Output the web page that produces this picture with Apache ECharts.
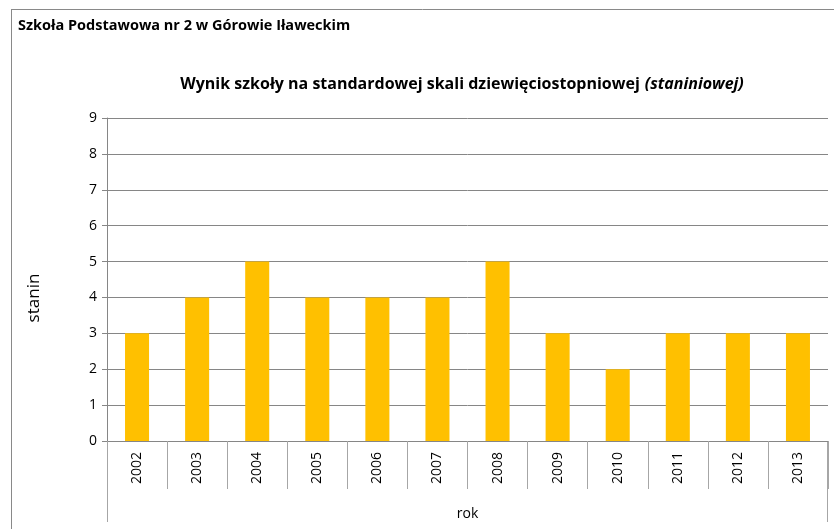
<!DOCTYPE html>
<html>
<head>
<meta charset="utf-8">
<script src="https://cdn.jsdelivr.net/npm/echarts@6/dist/echarts.min.js"></script>
<style>
  html, body { margin: 0; padding: 0; background: #fff; }
  #main { width: 834px; height: 529px; }
</style>
</head>
<body>
<div id="main"></div>
<script>
// dane z wykresu
var years = ['2002', '2003', '2004', '2005', '2006', '2007', '2008', '2009', '2010', '2011', '2012', '2013'];
var stanin = [3, 4, 5, 4, 4, 4, 5, 3, 2, 3, 3, 3];

var font = '"Open Sans", sans-serif';
var gridLeft = 107, gridRight = 828, gridBottomY = 441;

var chart = echarts.init(document.getElementById('main'));

chart.setOption({
  backgroundColor: '#fff',
  animation: false,
  title: [
    {
      text: 'Szkoła Podstawowa nr 2 w Górowie Iławeckim',
      left: 13, top: 13,
      textStyle: {fontFamily: font, fontSize: 14.5, fontWeight: 'bold', color: '#000'}
    },
    {
      text: '{b|Wynik szkoły na standardowej skali dziewięciostopniowej} {i|(staniniowej)}',
      left: 457, top: 70, textAlign: 'center',
      textStyle: {
        rich: {
          b: {fontFamily: font, fontSize: 16, fontWeight: 'bold', color: '#000'},
          i: {fontFamily: font, fontSize: 16, fontStyle: 'italic', color: '#000'}
        }
      }
    }
  ],
  grid: {left: gridLeft, right: 834 - gridRight, top: 118, bottom: 529 - gridBottomY},
  xAxis: {
    type: 'category',
    data: years,
    axisLine: {lineStyle: {color: '#868686'}},
    axisTick: {show: true, interval: 0, length: 48, lineStyle: {color: '#a6a6a6'}},
    axisLabel: {rotate: 90, margin: 11, interval: 0, fontFamily: font, fontSize: 14, color: '#000'},
    name: 'rok',
    nameLocation: 'middle',
    nameGap: 66,
    nameTextStyle: {fontFamily: font, fontSize: 14, color: '#000'}
  },
  yAxis: {
    type: 'value',
    min: 0, max: 9, interval: 1,
    axisLine: {show: true, lineStyle: {color: '#868686'}},
    axisTick: {show: true, length: 5, lineStyle: {color: '#868686'}},
    splitLine: {lineStyle: {color: '#868686'}},
    axisLabel: {margin: 10, fontFamily: font, fontSize: 14, color: '#000'}
  },
  series: [{
    type: 'bar',
    data: stanin,
    barWidth: '40%',
    itemStyle: {color: '#FFC000'}
  }],
  graphic: [
    // ramka
    {type: 'line', shape: {x1: 11, y1: 9.5, x2: 834, y2: 9.5}, style: {stroke: '#898989', lineWidth: 1}},
    {type: 'line', shape: {x1: 11.5, y1: 9, x2: 11.5, y2: 529}, style: {stroke: '#898989', lineWidth: 1}},
    // dluzsze linie osi kategorii
    {type: 'line', shape: {x1: gridLeft + 0.5, y1: gridBottomY, x2: gridLeft + 0.5, y2: 522}, style: {stroke: '#a6a6a6', lineWidth: 1}},
    {type: 'line', shape: {x1: gridRight - 0.5, y1: gridBottomY, x2: gridRight - 0.5, y2: 522}, style: {stroke: '#a6a6a6', lineWidth: 1}},
    // tytul osi Y (przesuniety w dol jak w oryginale)
    {
      type: 'text', x: 34, y: 298, rotation: Math.PI / 2,
      style: {text: 'stanin', fontFamily: font, fontSize: 17, fill: '#000', align: 'center', verticalAlign: 'middle'}
    }
  ]
});
</script>
</body>
</html>
